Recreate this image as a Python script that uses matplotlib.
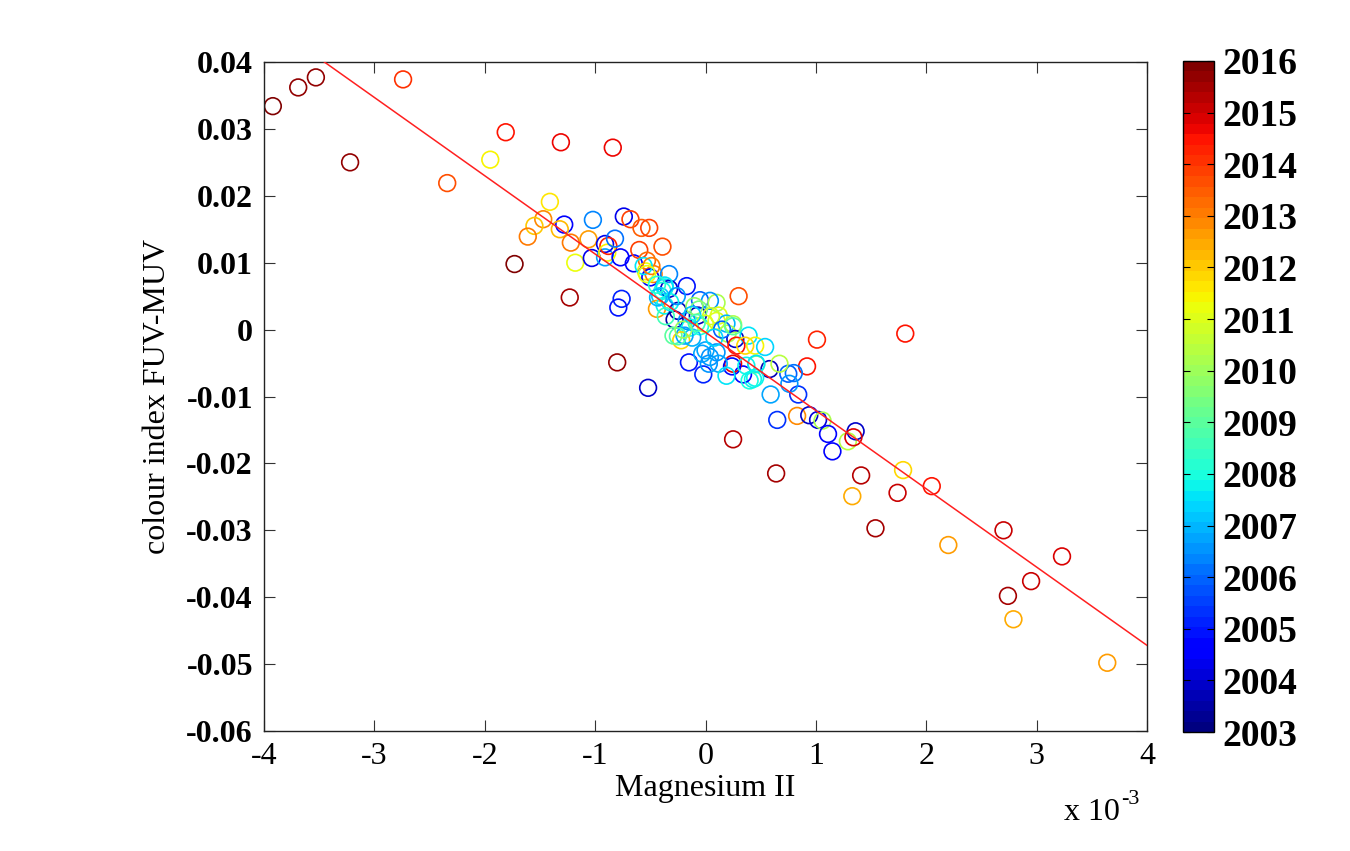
import numpy as np
import matplotlib
matplotlib.use("Agg")
import matplotlib.pyplot as plt
from matplotlib.colors import ListedColormap, Normalize

plt.rcParams['font.family'] = ['Liberation Serif', 'DejaVu Serif']
plt.rcParams['axes.unicode_minus'] = False

# Magnesium II index (units of 1e-3)
mg = [-3.92, -3.69, -3.53, -3.22, -2.74, -2.34, -1.95, -1.81, -1.31, -0.84,
      -1.41, -1.47, -1.55, -1.61, -1.28, -1.32, -1.22, -1.06, -1.02, -1.18,
      -1.73, -1.03, -0.91, -0.91, -0.88, -0.89, -0.82, -0.77, -0.65, -0.74,
      -0.68, -0.58, -0.51, -1.23, -0.76, -0.79, -0.80, -0.60, -0.39, -0.53,
      -0.54, -0.47, -0.50, -0.33, -0.37, -0.33, -0.17, -0.41, -0.44, -0.37,
      -0.25, -0.28, -0.07, -0.05, 0.10, -0.15, -0.02, 0.30, 1.01, 0.92,
      -0.52, 0.25, 0.59, 0.65, 0.83, 0.94, 1.02, 1.06, 1.11, 1.15,
      1.29, 0.84, 0.75, 0.80, 0.76, 0.58, 0.67, 0.45, 0.34, 0.25,
      0.24, 0.40, 0.46, 1.81, 0.64, 1.36, 1.34, 1.41, 1.33, 1.79,
      2.05, 1.74, 1.54, 2.20, 2.70, 3.23, 2.95, 2.74, 2.79, 3.64,
      -0.56, -0.49, -0.53, -0.39, -0.37, -0.43, 0.04, -0.06, -0.17, -0.14,
      -0.05, 0.10, 0.12, 0.19, 0.25, -0.005, -0.29, -0.22, -0.19, -0.12,
      -0.03, 0.04, 0.20, 0.27, 0.39, 0.28, 0.36, 0.45, 0.54, 0.10,
      0.00, 0.03, 0.12, 0.37, 0.46, 0.19, 0.43, -0.36, -0.25, -0.20,
      -0.10, 0.05, -0.12, -0.32, -0.26, 0.15, -0.08, 0.08, -0.44, 0.25]

# colour index FUV-MUV
ci = [0.0334, 0.0362, 0.0377, 0.0250, 0.0374, 0.0219, 0.0254, 0.0295, 0.0280, 0.0272,
      0.0191, 0.0165, 0.0155, 0.0139, 0.0157, 0.0150, 0.0130, 0.0135, 0.0164, 0.0100,
      0.0098, 0.0107, 0.0108, 0.0128, 0.0125, 0.0115, 0.0136, 0.0108, 0.0099, 0.0169,
      0.0165, 0.0152, 0.0152, 0.0048, 0.0046, 0.0033, -0.0049, 0.0119, 0.0124, 0.0103,
      0.0087, 0.0083, 0.0078, 0.0083, 0.0063, 0.0061, 0.0065, 0.0050, 0.0031, 0.0036,
      0.0028, 0.0015, 0.0021, 0.0044, 0.0040, -0.0049, -0.0067, 0.0050, -0.0015, -0.0055,
      -0.0087, -0.0164, -0.0097, -0.0135, -0.0129, -0.0128, -0.0135, -0.0136, -0.0156, -0.0182,
      -0.0167, -0.0097, -0.0066, -0.0065, -0.0081, -0.0059, -0.0051, -0.0072, -0.0067, -0.0051,
      -0.0055, -0.0076, -0.0052, -0.0006, -0.0215, -0.0152, -0.0161, -0.0218, -0.0249, -0.0210,
      -0.0234, -0.0244, -0.0297, -0.0322, -0.0300, -0.0339, -0.0376, -0.0398, -0.0433, -0.0498,
      0.0095, 0.0095, 0.0083, 0.0058, 0.0066, 0.0048, 0.0043, 0.0030, 0.0013, 0.0003,
      0.0005, 0.0013, 0.0021, 0.0009, 0.0008, 0.0009, -0.0009, -0.0016, -0.0009, -0.0012,
      -0.0036, -0.0041, -0.0006, -0.0014, -0.0009, -0.0024, -0.0024, -0.0024, -0.0026, -0.0034,
      -0.0031, -0.0051, -0.0051, -0.0054, -0.0051, -0.0069, -0.0074, 0.0020, -0.0010, 0.0000,
      0.0035, 0.0020, 0.0022, 0.0041, 0.0050, 0.0000, 0.0010, -0.0012, 0.0067, 0.0005]

# observation time (year)
year = [2015.8, 2015.7, 2015.6, 2015.7, 2014.0, 2013.6, 2011.4, 2014.4, 2014.6, 2014.6,
        2011.6, 2012.9, 2012.0, 2013.0, 2004.6, 2012.3, 2013.1, 2012.6, 2006.4, 2011.3,
        2015.8, 2004.4, 2006.8, 2004.3, 2014.2, 2011.5, 2006.2, 2004.5, 2004.6, 2004.3,
        2013.8, 2013.5, 2013.8, 2015.5, 2005.2, 2005.0, 2015.6, 2013.9, 2013.7, 2013.2,
        2011.2, 2013.0, 2004.5, 2006.3, 2007.6, 2004.0, 2005.0, 2007.2, 2012.6, 2007.8,
        2003.8, 2003.6, 2003.7, 2006.0, 2010.2, 2005.0, 2005.2, 2013.6, 2014.3, 2014.5,
        2004.0, 2015.3, 2006.7, 2005.3, 2012.8, 2003.9, 2004.2, 2010.3, 2004.8, 2004.6,
        2010.4, 2005.4, 2006.0, 2006.2, 2006.6, 2003.8, 2010.4, 2007.7, 2004.8, 2014.6,
        2004.7, 2008.0, 2009.2, 2014.5, 2015.4, 2004.0, 2014.8, 2015.3, 2012.5, 2011.9,
        2014.4, 2015.0, 2015.4, 2012.6, 2015.1, 2014.9, 2015.0, 2015.5, 2012.5, 2012.6,
        2007.5, 2013.0, 2011.2, 2008.0, 2007.5, 2007.0, 2006.6, 2009.3, 2006.6, 2007.8,
        2008.0, 2011.0, 2011.0, 2007.0, 2010.2, 2011.0, 2009.0, 2011.8, 2006.8, 2007.0,
        2006.7, 2006.6, 2010.2, 2003.9, 2007.5, 2014.5, 2011.8, 2011.5, 2007.4, 2006.6,
        2006.8, 2006.5, 2006.8, 2007.8, 2007.5, 2007.6, 2007.8, 2008.6, 2008.8, 2010.0,
        2009.8, 2010.8, 2007.2, 2007.8, 2006.5, 2006.0, 2008.6, 2007.3, 2008.2, 2009.0]

# regression line: ci = fit_intercept + fit_slope * mg
fit_slope = -0.01170
fit_intercept = -0.0004

xticks = [-4, -3, -2, -1, 0, 1, 2, 3, 4]
yticks = [-0.06, -0.05, -0.04, -0.03, -0.02, -0.01, 0, 0.01, 0.02, 0.03, 0.04]
ytick_labels = ['-0.06', '-0.05', '-0.04', '-0.03', '-0.02', '-0.01', '0',
                '0.01', '0.02', '0.03', '0.04']
cbar_ticks = list(range(2003, 2017))

cmap = ListedColormap(plt.cm.jet(np.linspace(0, 1, 64)))
norm = Normalize(vmin=2003, vmax=2016)

fig = plt.figure(figsize=(13.5, 8.51), dpi=100)
ax = fig.add_axes([264/1350, 1-731/851, (1147-264)/1350, (731-62)/851])

cols = cmap(norm(np.array(year)))
ax.scatter(mg, ci, marker='o', s=145, facecolors='none', edgecolors=cols,
           linewidths=1.2)

xl = np.array([-4.0, 4.0])
ax.plot(xl, fit_intercept + fit_slope * xl, color='#ff2020', lw=1.1, zorder=3)

ax.set_xlim(-4, 4)
ax.set_ylim(-0.06, 0.04)
ax.set_xticks(xticks)
ax.set_xticklabels([str(t) for t in xticks], fontsize=23)
ax.set_yticks(yticks)
ax.set_yticklabels(ytick_labels, fontsize=23, fontweight='bold')
ax.tick_params(direction='in', top=True, right=True, length=8, width=0.8,
               color='#333333', pad=8)
for sp in ax.spines.values():
    sp.set_linewidth(1.0)
    sp.set_color('#222222')

ax.set_xlabel('Magnesium II', fontsize=23, labelpad=2)
ax.set_ylabel('colour index FUV-MUV', fontsize=23, labelpad=10)
base = fig.text(1064/1350, 1-820/851, 'x 10', fontsize=23, ha='left',
                va='baseline')
ax.annotate('-3', xy=(1.0, 0.62), xycoords=base, xytext=(1, 0),
            textcoords='offset points', fontsize=16, ha='left', va='bottom',
            annotation_clip=False)

cax = fig.add_axes([1183/1350, 1-732/851, 31/1350, (732-61)/851])
cb = fig.colorbar(plt.cm.ScalarMappable(norm=norm, cmap=cmap), cax=cax)
cb.set_ticks(cbar_ticks)
cb.set_ticklabels([str(t) for t in cbar_ticks])
cax.tick_params(direction='in', left=True, right=True, length=5, width=0.8,
                labelsize=27, pad=6)
for lab in cax.get_yticklabels():
    lab.set_fontweight('bold')
cb.outline.set_linewidth(1.0)

fig.savefig('out.png', dpi=100)
